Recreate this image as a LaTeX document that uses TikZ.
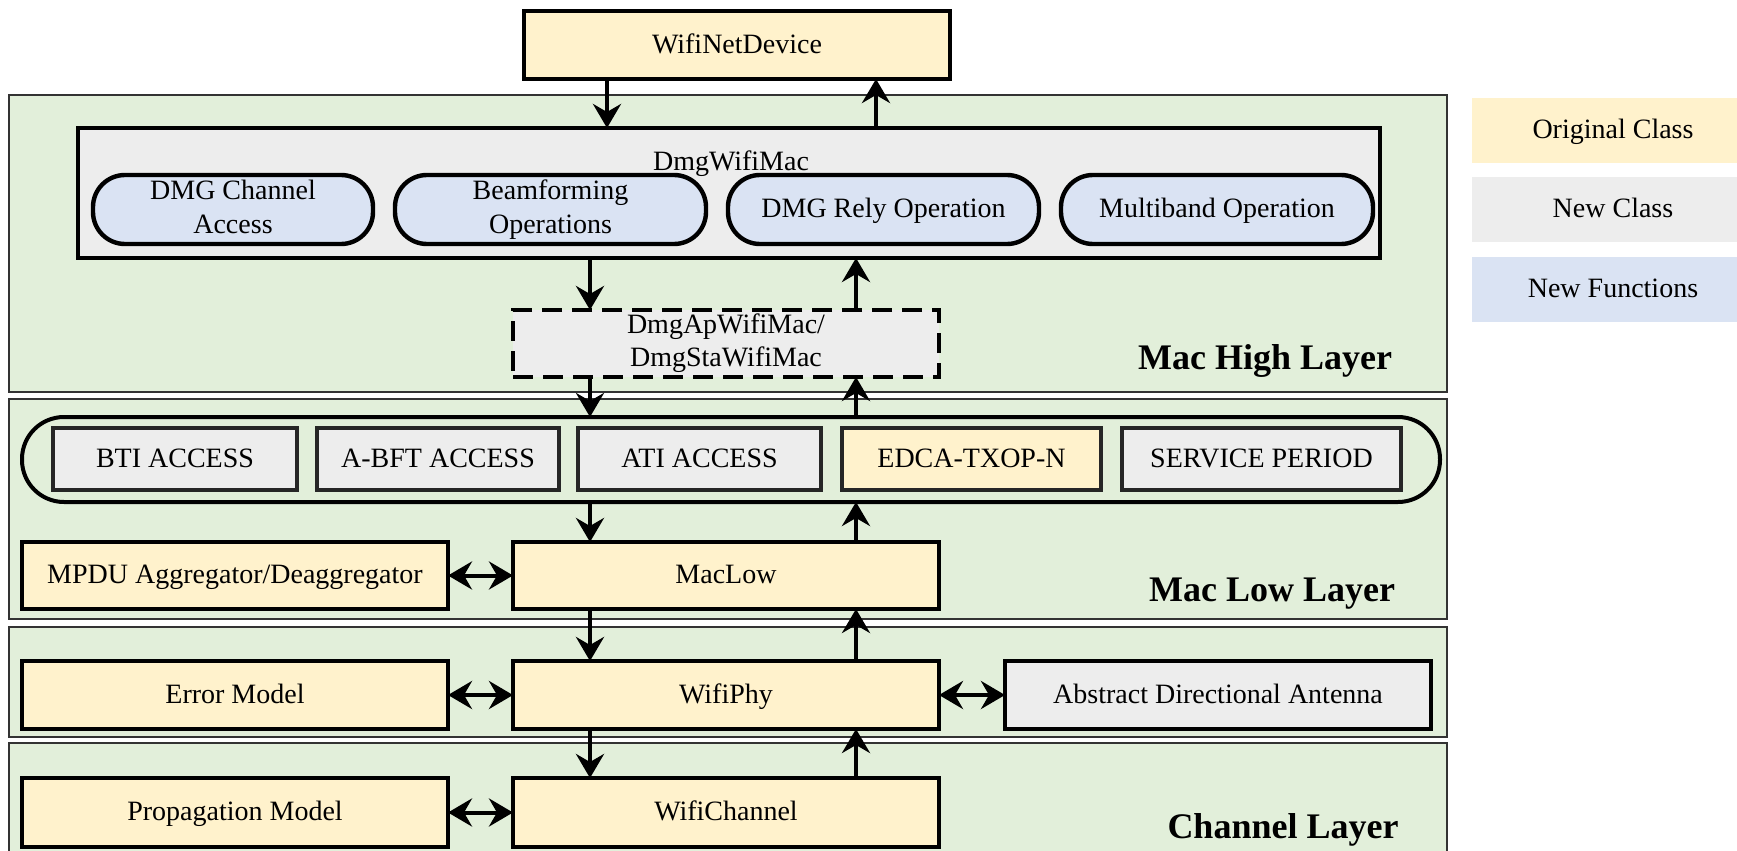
\documentclass[tikz,border=0pt]{standalone}
\usepackage{fontspec}
\setmainfont{Liberation Serif}
\usetikzlibrary{arrows.meta}
\definecolor{origc}{HTML}{FFF2CC}
\definecolor{newc}{HTML}{EDEDED}
\definecolor{funcc}{HTML}{DAE3F3}
\definecolor{layerc}{HTML}{E2EFDA}
% line strut that keeps every label sitting at the same optical height
\newcommand\tstrut{\rule[-2.9pt]{0pt}{14.1pt}}

\begin{document}
\begin{tikzpicture}[x=0.5pt,y=-0.5pt,
  txt/.style={font=\fontsize{14}{17}\selectfont, execute at begin node=\tstrut},
  base/.style={rectangle, draw, inner sep=0pt, outer sep=0pt, align=center, txt},
  orig/.style={base, fill=origc, line width=2.4pt},
  newcls/.style={base, fill=newc, line width=2.4pt},
  access/.style={base, line width=1.6pt, draw=black!85, minimum height=31pt},
  func/.style={base, fill=funcc, line width=2.2pt, rounded corners=16pt, minimum height=34.5pt},
  layer/.style={rectangle, draw=black!80, line width=1pt, fill=layerc, inner sep=0pt, outer sep=0pt},
  legend/.style={rectangle, inner sep=0pt, outer sep=0pt, minimum width=141pt, minimum height=32.5pt},
  title/.style={font=\fontsize{18}{20}\selectfont\bfseries, execute at begin node=\strut},
  arr/.style={line width=2.3pt, -{Stealth[length=12pt,width=14pt,inset=4pt]}},
  biarr/.style={line width=2pt, {Stealth[length=12pt,width=14pt,inset=4pt]}-{Stealth[length=12pt,width=14pt,inset=4pt]}}
]
\useasboundingbox (0,0) rectangle (1737,851);
\clip (0,0) rectangle (1737,851);

% layer backgrounds
\node[layer, minimum width=719pt, minimum height=148.5pt] (Lhigh) at (728,243.5) {};
\node[layer, minimum width=719pt, minimum height=110pt] (Llow) at (728,509) {};
\node[layer, minimum width=719pt, minimum height=55pt] (Lphy) at (728,682) {};
\node[layer, minimum width=719pt, minimum height=70pt] (Lchan) at (728,813) {};

% top device
\node[orig, minimum width=213pt, minimum height=34pt] (wnd) at (737,45) {WifiNetDevice};

% Mac high layer
\node[newcls, minimum width=651pt, minimum height=65pt] (dmg) at (729,193) {};
\node[txt, inner sep=0pt] (dmglbl) at (731,162) {DmgWifiMac};
\node[func, minimum width=140pt] (f1) at (233,209.5) {DMG Channel\\\smash{Access}};
\node[func, minimum width=155.5pt] (f2) at (550.5,209.5) {Beamforming\\\smash{Operations}};
\node[func, minimum width=155.5pt] (f3) at (883.5,209.5) {DMG Rely Operation};
\node[func, minimum width=156pt] (f4) at (1217,209.5) {Multiband Operation};
\node[base, fill=newc, line width=2.4pt, dash pattern=on 10pt off 5pt,
      minimum width=213pt, minimum height=33.5pt, font=\fontsize{14}{16.5}\selectfont] (dsh) at (726,343.5) {DmgApWifiMac/\\\smash{DmgStaWifiMac}};
\node[title] (thigh) at (1265,361) {Mac High Layer};

% Mac low layer
\node[rectangle, draw, line width=2pt, rounded corners=21pt, inner sep=0pt, outer sep=0pt,
      minimum width=709pt, minimum height=42.5pt] (cap) at (731,459.5) {};
\node[access, fill=newc, minimum width=122pt] (bti) at (175,459) {BTI ACCESS};
\node[access, fill=newc, minimum width=121pt] (abft) at (438,459) {A-BFT ACCESS};
\node[access, fill=newc, minimum width=121.5pt] (ati) at (699.5,459) {ATI ACCESS};
\node[access, fill=origc, minimum width=129.5pt] (edca) at (971.5,459) {EDCA-TXOP-N};
\node[access, fill=newc, minimum width=139.5pt] (sp) at (1261.5,459) {SERVICE PERIOD};
\node[orig, minimum width=213pt, minimum height=33.5pt] (mpdu) at (235,575.5) {MPDU Aggregator/Deaggregator};
\node[orig, minimum width=213pt, minimum height=33.5pt] (maclow) at (726,575.5) {MacLow};
\node[title] (tlow) at (1272,593) {Mac Low Layer};

% PHY
\node[orig, minimum width=213pt, minimum height=34pt] (err) at (235,695) {Error Model};
\node[orig, minimum width=213pt, minimum height=34pt] (phy) at (726,695) {WifiPhy};
\node[newcls, minimum width=213pt, minimum height=34pt] (ant) at (1218,695) {Abstract Directional Antenna};

% channel layer
\node[orig, minimum width=213pt, minimum height=34.5pt] (prop) at (235,812.5) {Propagation Model};
\node[orig, minimum width=213pt, minimum height=34.5pt] (chan) at (726,812.5) {WifiChannel};
\node[title] (tchan) at (1283,830) {Channel Layer};

% legend
\node[legend, fill=origc] (lg1) at (1613,130) {};
\node[legend, fill=newc] (lg2) at (1613,209) {};
\node[legend, fill=funcc] (lg3) at (1613,289) {};
\node[txt] at (lg1) {Original Class};
\node[txt] at (lg2) {New Class};
\node[txt] at (lg3) {New Functions};

% vertical connectors
\coordinate (dn0) at (607,0);
\coordinate (up0) at (876,0);
\coordinate (dn) at (590,0);
\coordinate (up) at (856,0);
\draw[arr] (wnd.south -| dn0) -- (dmg.north -| dn0);
\draw[arr] (dmg.north -| up0) -- (wnd.south -| up0);
\draw[arr] (dmg.south -| dn) -- (dsh.north -| dn);
\draw[arr] (dsh.north -| up) -- (dmg.south -| up);
\draw[arr] (dsh.south -| dn) -- (cap.north -| dn);
\draw[arr] (cap.north -| up) -- (dsh.south -| up);
\draw[arr] (cap.south -| dn) -- (maclow.north -| dn);
\draw[arr] (maclow.north -| up) -- (cap.south -| up);
\draw[arr] (maclow.south -| dn) -- (phy.north -| dn);
\draw[arr] (phy.north -| up) -- (maclow.south -| up);
\draw[arr] (phy.south -| dn) -- (chan.north -| dn);
\draw[arr] (chan.north -| up) -- (phy.south -| up);

% side connectors
\draw[biarr] (mpdu.east) -- (maclow.west);
\draw[biarr] (err.east) -- (phy.west);
\draw[biarr] (phy.east) -- (ant.west);
\draw[biarr] (prop.east) -- (chan.west);
\end{tikzpicture}
\end{document}
